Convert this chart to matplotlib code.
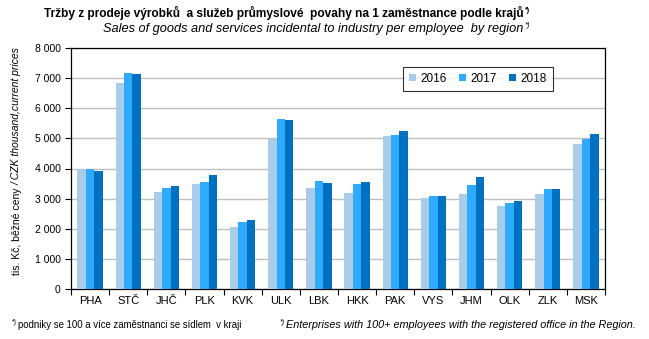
import numpy as np
import matplotlib.pyplot as plt
from matplotlib.ticker import FuncFormatter

plt.rcParams['font.family'] = ['Liberation Sans', 'DejaVu Sans']

regions = ["PHA", "STČ", "JHČ", "PLK", "KVK", "ULK", "LBK", "HKK", "PAK",
           "VYS", "JHM", "OLK", "ZLK", "MSK"]
years = ["2016", "2017", "2018"]
v2016 = [4000, 6825, 3230, 3496, 2069, 4989, 3363, 3197, 5088, 3031, 3164, 2765, 3164, 4823]
v2017 = [4000, 7157, 3363, 3562, 2235, 5653, 3595, 3496, 5122, 3097, 3462, 2865, 3330, 4989]
v2018 = [3930, 7124, 3407, 3794, 2301, 5620, 3529, 3562, 5254, 3097, 3728, 2931, 3330, 5155]
colors = ["#A9CDE8", "#2EAAFF", "#0070C0"]

W, H = 649, 339
fig = plt.figure(figsize=(W / 100, H / 100), dpi=100)
ax = fig.add_axes([71 / W, 1 - 289 / H, (605 - 71) / W, (289 - 48) / H])
renderer = fig.canvas.get_renderer()

x = np.arange(len(regions))
w = 0.22
for i, (vals, yr) in enumerate(zip([v2016, v2017, v2018], years)):
    ax.bar(x + (i - 1) * w, vals, w, color=colors[i], label=yr, zorder=3)

ax.set_xlim(-0.5, len(regions) - 0.5)
ax.set_ylim(0, 8000)
ax.set_yticks(range(0, 8001, 1000))
ax.yaxis.set_major_formatter(FuncFormatter(lambda v, p: f"{int(v):,}".replace(",", " ")))
ax.grid(axis='y', color='#BFBFBF', linewidth=1, zorder=0)
ax.set_xticks(np.arange(len(regions) + 1) - 0.5)
ax.set_xticklabels([])
ax.set_xticks(x, minor=True)
ax.set_xticklabels(regions, minor=True, fontsize=8)
ax.tick_params(axis='x', which='major', length=4, direction='out', width=0.8)
ax.tick_params(axis='x', which='minor', length=0, pad=5)
ax.tick_params(axis='y', labelsize=7.5, length=4, width=0.8)
for s in ax.spines.values():
    s.set_linewidth(0.9)

# y label: upright Czech part, italic English part
t1 = fig.text(17 / W, 1 - 275 / H, "tis. Kč, běžné ceny ", rotation=90,
              ha='center', va='bottom', fontsize=7.5)
bb = t1.get_window_extent(renderer)
fig.text(17 / W, bb.y1 / H, "/ CZK thousand,current prices", rotation=90,
         ha='center', va='bottom', fontsize=7.5, fontstyle='italic')

leg = ax.legend(loc='upper left', bbox_to_anchor=((403 - 71) / 534, 1 - (67 - 48) / 241),
                ncol=3, frameon=True, fancybox=False, edgecolor='black', fontsize=8.5,
                handlelength=0.6, handleheight=0.6, handletextpad=0.4, columnspacing=1.0,
                borderpad=0.5, borderaxespad=0)
leg.get_frame().set_linewidth(0.8)


def text_with_note(xc, y, s, size, **kw):
    # centred text followed by a small raised "*)"
    t = fig.text(xc, y, s, ha='center', va='baseline', fontsize=size, **kw)
    b = t.get_window_extent(renderer)
    fig.text(b.x1 / W + 0.002, y + 5 / H, "*)", ha='left', va='baseline',
             fontsize=size * 0.6, **kw)


text_with_note(284 / W, 1 - 17 / H,
               "Tržby z prodeje výrobků  a služeb průmyslové  povahy na 1 zaměstnance podle krajů",
               8.6, fontweight='bold')
text_with_note(313 / W, 1 - 32 / H,
               "Sales of goods and services incidental to industry per employee  by region",
               9.2, fontstyle='italic')

fig.text(12 / W, 1 - 324 / H, "*)", fontsize=5, va='baseline')
fig.text(18 / W, 1 - 328 / H, "podniky se 100 a více zaměstnanci se sídlem  v kraji",
         fontsize=6.9, va='baseline')
fig.text(280 / W, 1 - 324 / H, "*)", fontsize=5, va='baseline', fontstyle='italic')
fig.text(286 / W, 1 - 328 / H,
         "Enterprises with 100+ employees with the registered office in the Region.",
         fontsize=7.8, fontstyle='italic', va='baseline')

fig.savefig("out.png", dpi=100)
